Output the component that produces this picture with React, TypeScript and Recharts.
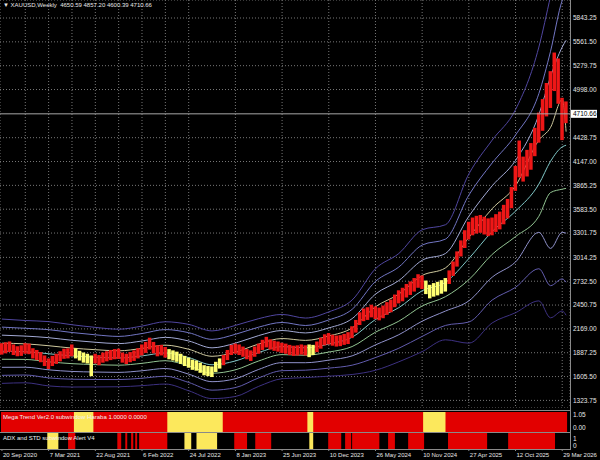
import React from "react";
import {
  Bar,
  Cell,
  CartesianGrid,
  ComposedChart,
  Line,
  ReferenceArea,
  ReferenceLine,
  XAxis,
  YAxis,
} from "recharts";

// two-week candles (week 0 = 20 Sep 2020), low / high
const candleLow = [
  1865, 1880, 1895, 1860, 1845, 1850, 1875, 1870, 1820, 1800,
  1775, 1730, 1695, 1730, 1755, 1785, 1815, 1820, 1845, 1820,
  1795, 1770, 1760, 1610, 1760, 1740, 1770, 1785, 1800, 1810,
  1815, 1770, 1755, 1775, 1790, 1820, 1855, 1885, 1925, 1880,
  1845, 1855, 1830, 1810, 1795, 1780, 1755, 1730, 1710, 1685,
  1675, 1650, 1620, 1610, 1600, 1660, 1700, 1740, 1800, 1860,
  1875, 1860, 1840, 1810, 1790, 1840, 1875, 1920, 1950, 1925,
  1910, 1900, 1885, 1875, 1860, 1850, 1855, 1865, 1855, 1835,
  1860, 1895, 1935, 1975, 1985, 1970, 1960, 1965, 1980, 1990,
  2060, 2125, 2215, 2260, 2275, 2305, 2285, 2270, 2295, 2335,
  2365, 2425, 2470, 2495, 2540, 2570, 2610, 2655, 2640, 2580,
  2530, 2550, 2565, 2585, 2610, 2700, 2795, 2905, 3025, 3125,
  3225, 3275, 3295, 3305, 3285, 3265, 3275, 3315, 3345, 3405,
  3475, 3595, 3800, 3960, 3910, 3970, 4050, 4210, 4370, 4510,
  4680, 4780, 4980, 4830, 4400, 4600.39,
];
const candleHigh = [
  2000, 2010, 2020, 1985, 1965, 1975, 2000, 1995, 1940, 1920,
  1895, 1855, 1820, 1850, 1875, 1905, 1935, 1940, 1985, 1940,
  1910, 1890, 1875, 1855, 1875, 1860, 1890, 1905, 1920, 1930,
  1935, 1890, 1875, 1895, 1915, 1940, 1985, 2015, 2065, 2015,
  1975, 1980, 1955, 1930, 1915, 1900, 1875, 1850, 1830, 1805,
  1795, 1770, 1740, 1730, 1725, 1780, 1820, 1860, 1920, 1980,
  1995, 1985, 1960, 1930, 1915, 1960, 1995, 2040, 2075, 2045,
  2030, 2020, 2005, 1995, 1980, 1970, 1975, 1985, 1975, 1985,
  1980, 2020, 2065, 2105, 2120, 2100, 2090, 2095, 2110, 2130,
  2200, 2275, 2365, 2410, 2425, 2455, 2435, 2420, 2445, 2485,
  2515, 2575, 2625, 2655, 2700, 2730, 2770, 2815, 2800, 2740,
  2690, 2710, 2725, 2745, 2770, 2860, 2965, 3085, 3215, 3335,
  3435, 3485, 3505, 3515, 3495, 3475, 3485, 3525, 3555, 3635,
  3705, 3845, 4095, 4395, 4205, 4285, 4365, 4545, 4725, 4885,
  5075, 5215, 5435, 5365, 4900, 4857.2,
];

// envelope lines, outermost upper (band1) to outermost lower (band9)
const bandWeeks = [0, 12, 24, 36, 48, 60, 72, 84, 96, 108, 120, 132, 144, 156, 168, 180, 192, 204, 216, 228, 240, 252, 264, 276, 282, 288, 290];
const band1 = [2285, 2268, 2255, 2218, 2187, 2165, 2202, 2253, 2222, 2145, 2210, 2290, 2340, 2297, 2370, 2510, 2880, 3060, 3340, 3400, 4000, 4400, 4760, 5500, 6100, 6700, 6800];
const band2 = [2190, 2176, 2160, 2126, 2099, 2080, 2114, 2161, 2124, 2045, 2105, 2190, 2245, 2209, 2275, 2400, 2730, 2900, 3160, 3230, 3750, 4130, 4460, 4950, 5450, 6050, 6150];
const band3 = [2095, 2084, 2065, 2034, 2011, 1995, 2026, 2069, 2026, 1945, 2000, 2090, 2150, 2121, 2180, 2290, 2580, 2740, 2980, 3060, 3500, 3860, 4160, 4700, 5150, 5500, 5580];
const band4 = [2000, 1992, 1970, 1942, 1923, 1910, 1938, 1977, 1928, 1845, 1895, 1990, 2055, 2033, 2085, 2180, 2430, 2580, 2800, 2890, 3250, 3590, 3860, 4400, 4550, 4880, 4500];
const band5 = [1905, 1900, 1875, 1850, 1835, 1825, 1850, 1885, 1830, 1745, 1790, 1890, 1960, 1945, 1990, 2070, 2280, 2420, 2620, 2720, 3000, 3320, 3560, 3880, 4150, 4320, 4340];
const band6 = [1810, 1808, 1780, 1758, 1747, 1740, 1762, 1793, 1732, 1645, 1685, 1790, 1865, 1857, 1895, 1960, 2130, 2260, 2440, 2550, 2750, 3050, 3260, 3500, 3780, 3820, 3830];
const band7 = [1715, 1716, 1685, 1666, 1659, 1655, 1674, 1701, 1634, 1545, 1580, 1690, 1770, 1769, 1800, 1850, 1980, 2100, 2260, 2380, 2500, 2780, 2960, 3310, 3120, 3310, 3300];
const band8 = [1620, 1624, 1590, 1574, 1571, 1570, 1586, 1609, 1536, 1445, 1475, 1590, 1675, 1681, 1705, 1740, 1830, 1940, 2080, 2210, 2250, 2510, 2660, 2880, 2680, 2760, 2720];
const band9 = [1525, 1532, 1495, 1482, 1483, 1485, 1498, 1517, 1438, 1345, 1370, 1490, 1580, 1593, 1610, 1630, 1680, 1780, 1900, 2040, 2000, 2240, 2360, 2500, 2300, 2380, 2330];
const bandColors = ["#5046a0", "#7276c4", "#a2a9d4", "#cfc99e", "#80c8c8", "#92c492", "#9092cc", "#625cae", "#3d3182"];

// Mega Trend subwindow: yellow stretches (weeks), red elsewhere
const megaYellow = [[37, 47], [85, 113.5], [157, 160], [216.5, 228]];
// ADX and STD subwindow stretches (weeks)
const adxRed = [[34, 37.7], [59.3, 61.3], [63.4, 64.4], [66.4, 67.5], [68.5, 69.5], [70.5, 85], [119.4, 126], [130.2, 138.4], [167.7, 174.4], [176.4, 179.5], [180, 194], [198.5, 202], [208.8, 217], [229.3, 249.4], [260.2, 284.3]];
const adxYellow = [[23.3, 29], [93.8, 97.3], [100, 110.6], [158, 160]];

const priceTicks = [5843.25, 5561.5, 5279.75, 4998, 4428.75, 4147, 3865.25, 3583.5, 3301.75, 3014.25, 2732.5, 2450.75, 2169, 1887.25, 1605.5, 1323.75];
const gridWeeks = [0, 12, 24, 36, 48, 60, 72, 84, 96, 108, 120, 132, 144, 156, 168, 180, 192, 204, 216, 228, 240, 252, 264, 276, 288];
const dateWeeks = [0, 24, 48, 72, 96, 120, 144, 168, 192, 216, 240, 264, 288];
const dateLabels = ["20 Sep 2020", "7 Mar 2021", "22 Aug 2021", "6 Feb 2022", "24 Jul 2022", "8 Jan 2023", "25 Jun 2023", "10 Dec 2023", "26 May 2024", "10 Nov 2024", "27 Apr 2025", "12 Oct 2025", "29 Mar 2026"];

const FONT = "'Liberation Sans', Arial, sans-serif";
const TEXT = "#e6e6e6";
const RED = "#e20000";
const YELLOW = "#fce85c";
const X_DOMAIN = [-1, 292];
const Y_DOMAIN = [1234, 6056];

const candles = candleLow.map((lo, k) => {
  const w = k * 2;
  const up = megaYellow.some(([a, b]) => w >= a && w <= b);
  return { w, range: [lo, candleHigh[k]], up };
});

const bandRows = bandWeeks.map((w, k) => ({
  w,
  b1: band1[k], b2: band2[k], b3: band3[k], b4: band4[k], b5: band5[k],
  b6: band6[k], b7: band7[k], b8: band8[k], b9: band9[k],
}));

const PriceTick = ({ x, y, payload }: any) => (
  <text x={x} y={y} dy={2.3} fontSize={6.5} fill={TEXT} fontFamily={FONT} textAnchor="start">
    {Number(payload.value).toFixed(2)}
  </text>
);

const SmallTick = ({ x, y, payload, digits }: any) => (
  <text x={x} y={y} dy={2.3} fontSize={6.5} fill={TEXT} fontFamily={FONT} textAnchor="start">
    {Number(payload.value).toFixed(digits)}
  </text>
);

const DateTick = ({ x, y, payload }: any) => {
  const idx = dateWeeks.indexOf(payload.value);
  return (
    <text x={x + 1} y={y} dy={5.5} fontSize={6} fill={TEXT} fontFamily={FONT} textAnchor="start">
      {dateLabels[idx]}
    </text>
  );
};

const PriceBox = ({ viewBox }: any) => {
  const x = viewBox.x + viewBox.width + 1;
  return (
    <g>
      <rect x={x} y={viewBox.y - 4} width={26} height={8} fill="#ffffff" />
      <text x={x + 2} y={viewBox.y + 2.3} fontSize={6.5} fill="#000" fontFamily={FONT}>
        4710.66
      </text>
    </g>
  );
};

const hLine = (top: number) => (
  <div style={{ position: "absolute", left: 0, top, width: 571, height: 1, background: "#8a8a8a" }} />
);

const label = (text: string, left: number, top: number) => (
  <div style={{ position: "absolute", left, top, fontSize: 6, lineHeight: "7px", color: "#f2f2f2", fontFamily: FONT, whiteSpace: "nowrap" }}>
    {text}
  </div>
);

const priceYAxis = (showTicks: boolean) => (
  <YAxis
    orientation="right"
    type="number"
    width={30}
    domain={Y_DOMAIN}
    ticks={priceTicks}
    interval={0}
    tick={showTicks ? <PriceTick /> : false}
    tickLine={false}
    axisLine={false}
    tickSize={1}
    tickMargin={2}
    allowDataOverflow
  />
);

const App = () => {
  return (
    <div style={{ position: "absolute", left: 0, top: 0, width: 600, height: 460, background: "#000", overflow: "hidden" }}>
      {/* price window: grid and envelope lines */}
      <div style={{ position: "absolute", left: 0, top: 0 }}>
        <ComposedChart width={600} height={408} data={candles} margin={{ top: 0, right: 0, bottom: 0, left: 0 }}>
          <CartesianGrid stroke="#777" strokeDasharray="1 2" />
          <XAxis type="number" dataKey="w" domain={X_DOMAIN} ticks={gridWeeks} hide allowDataOverflow />
          {priceYAxis(true)}
          {["b1", "b2", "b3", "b4", "b5", "b6", "b7", "b8", "b9"].map((key, k) => (
            <Line
              key={key}
              data={bandRows}
              dataKey={key}
              type="monotone"
              stroke={bandColors[k]}
              strokeWidth={1}
              dot={false}
              activeDot={false}
              isAnimationActive={false}
            />
          ))}
        </ComposedChart>
      </div>

      {/* price window: candles on top of the lines */}
      <div style={{ position: "absolute", left: 0, top: 0 }}>
        <ComposedChart
          width={600}
          height={408}
          data={candles}
          barCategoryGap={0}
          barGap={0}
          margin={{ top: 0, right: 0, bottom: 0, left: 0 }}
        >
          <XAxis type="number" dataKey="w" domain={X_DOMAIN} hide allowDataOverflow />
          {priceYAxis(false)}
          <Bar dataKey="range" barSize={4.4} isAnimationActive={false}>
            {candles.map((c) => (
              <Cell key={c.w} fill={c.up ? "#ffff72" : "#ee1717"} />
            ))}
          </Bar>
          <ReferenceLine y={4710.66} stroke="#a8a8a8" strokeWidth={1} label={<PriceBox />} />
        </ComposedChart>
      </div>

      <div style={{ position: "absolute", left: 3, top: 2, fontSize: 6, lineHeight: "7px", color: TEXT, fontFamily: FONT, whiteSpace: "pre" }}>
        {"\u25BC XAUUSD,Weekly  4650.59 4857.20 4600.39 4710.66"}
      </div>

      {/* Mega Trend subwindow */}
      <div style={{ position: "absolute", left: 0, top: 412 }}>
        <ComposedChart width={600} height={20} data={candles} margin={{ top: 0, right: 0, bottom: 0, left: 0 }}>
          <XAxis type="number" dataKey="w" domain={X_DOMAIN} hide allowDataOverflow />
          <YAxis
            orientation="right"
            type="number"
            width={30}
            domain={[-0.323, 1.292]}
            ticks={[0, 1.05]}
            interval={0}
            tick={<SmallTick digits={2} />}
            tickLine={false}
            axisLine={false}
            tickSize={1}
            tickMargin={2}
            allowDataOverflow
          />
          <ReferenceArea x1={-0.5} x2={290.5} fill={RED} fillOpacity={1} strokeOpacity={0} />
          {megaYellow.map(([a, b]) => (
            <ReferenceArea key={a} x1={a} x2={b} fill={YELLOW} fillOpacity={1} strokeOpacity={0} />
          ))}
        </ComposedChart>
      </div>

      {/* ADX and STD subwindow */}
      <div style={{ position: "absolute", left: 0, top: 433 }}>
        <ComposedChart width={600} height={27} data={candles} margin={{ top: 0, right: 0, bottom: 0, left: 0 }}>
          <XAxis
            type="number"
            dataKey="w"
            domain={X_DOMAIN}
            ticks={dateWeeks}
            interval={0}
            height={11}
            tick={<DateTick />}
            tickLine={{ stroke: "#8a8a8a" }}
            tickSize={2}
            tickMargin={0}
            axisLine={false}
            allowDataOverflow
          />
          <YAxis
            orientation="right"
            type="number"
            width={30}
            domain={[-0.43, 1.857]}
            ticks={[0, 1]}
            interval={0}
            tick={<SmallTick digits={0} />}
            tickLine={false}
            axisLine={false}
            tickSize={1}
            tickMargin={2}
            allowDataOverflow
          />
          {adxRed.map(([a, b]) => (
            <ReferenceArea key={"r" + a} x1={a} x2={b} fill={RED} fillOpacity={1} strokeOpacity={0} />
          ))}
          {adxYellow.map(([a, b]) => (
            <ReferenceArea key={"y" + a} x1={a} x2={b} fill={YELLOW} fillOpacity={1} strokeOpacity={0} />
          ))}
        </ComposedChart>
      </div>

      {label("Mega Trend Ver2.0 subwindow Haraba 1.0000 0.0000", 3, 414)}
      {label("ADX and STD subwindow Alert V4", 3, 435)}

      {hLine(410)}
      {hLine(432)}
      {hLine(449)}
      <div style={{ position: "absolute", left: 570, top: 0, width: 1, height: 450, background: "#8a8a8a" }} />
    </div>
  );
};

export default App;
